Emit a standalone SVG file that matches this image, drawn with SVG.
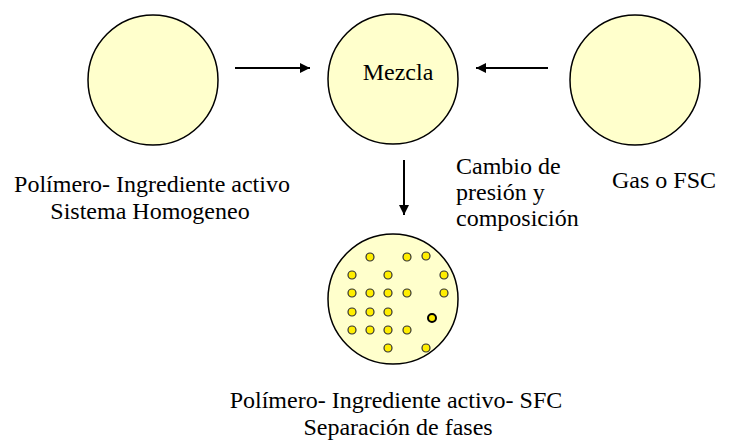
<svg xmlns="http://www.w3.org/2000/svg" width="730" height="445" viewBox="0 0 730 445">
<style>
.node{fill:#FFFFCC;stroke:#000;stroke-width:1.5}
.dot{fill:#FFEE00;stroke:#333;stroke-width:1.2}
text{font-family:'Liberation Serif','DejaVu Serif',serif;font-size:24px;fill:#000}
.conn{stroke:#000;stroke-width:2;fill:none}
</style>
<defs>
<marker id="ah" viewBox="0 0 10 10" refX="10" refY="5" markerWidth="5" markerHeight="5" orient="auto" markerUnits="strokeWidth">
<path d="M0,0 L10,5 L0,10 z" fill="#000"/>
</marker>
</defs>
<rect width="730" height="445" fill="#fff"/>
<g id="connectors">
<line class="conn" x1="235" y1="68" x2="310" y2="68" marker-end="url(#ah)"/>
<line class="conn" x1="548" y1="68" x2="476" y2="68" marker-end="url(#ah)"/>
<line class="conn" x1="404" y1="160" x2="404" y2="215" marker-end="url(#ah)"/>
</g>
<g id="node-left">
<circle class="node" cx="153" cy="80" r="65"/>
<text x="152" y="192" text-anchor="middle" font-family="Liberation Serif, serif">Polímero- Ingrediente activo</text>
<text x="150" y="219" text-anchor="middle" font-family="Liberation Serif, serif">Sistema Homogeneo</text>
</g>
<g id="node-mezcla">
<circle class="node" cx="393" cy="79" r="65"/>
<text x="398" y="80" text-anchor="middle" font-family="Liberation Serif, serif">Mezcla</text>
</g>
<g id="node-gas">
<circle class="node" cx="635" cy="80" r="65"/>
<text x="664" y="188" text-anchor="middle" font-family="Liberation Serif, serif">Gas o FSC</text>
</g>
<g id="label-cambio">
<text x="456" y="174" font-family="Liberation Serif, serif">Cambio de</text>
<text x="456" y="200" font-family="Liberation Serif, serif">presión y</text>
<text x="456" y="226" font-family="Liberation Serif, serif">composición</text>
</g>
<g id="node-separacion">
<circle class="node" cx="393" cy="299" r="65"/>
<circle class="dot" cx="370" cy="257" r="4"/>
<circle class="dot" cx="407" cy="257" r="4"/>
<circle class="dot" cx="426" cy="256" r="4"/>
<circle class="dot" cx="352" cy="275" r="4"/>
<circle class="dot" cx="388" cy="275" r="4"/>
<circle class="dot" cx="444" cy="275" r="4"/>
<circle class="dot" cx="352" cy="293" r="4"/>
<circle class="dot" cx="370" cy="293" r="4"/>
<circle class="dot" cx="388" cy="293" r="4"/>
<circle class="dot" cx="407" cy="293" r="4"/>
<circle class="dot" cx="444" cy="293" r="4"/>
<circle class="dot" cx="352" cy="312" r="4"/>
<circle class="dot" cx="370" cy="312" r="4"/>
<circle class="dot" cx="388" cy="312" r="4"/>
<circle class="dot" cx="432" cy="318" r="4" style="stroke:#000;stroke-width:2"/>
<circle class="dot" cx="352" cy="330" r="4"/>
<circle class="dot" cx="370" cy="330" r="4"/>
<circle class="dot" cx="388" cy="330" r="4"/>
<circle class="dot" cx="407" cy="330" r="4"/>
<circle class="dot" cx="388" cy="348" r="4"/>
<circle class="dot" cx="426" cy="348" r="4"/>
<text x="396" y="408" text-anchor="middle" font-family="Liberation Serif, serif">Polímero- Ingrediente activo- SFC</text>
<text x="398" y="435" text-anchor="middle" font-family="Liberation Serif, serif">Separación de fases</text>
</g>
</svg>
